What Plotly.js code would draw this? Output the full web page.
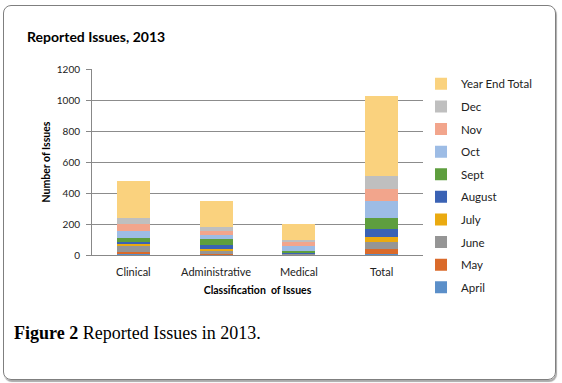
<!DOCTYPE html>
<html><head><meta charset="utf-8">
<script src="https://cdn.plot.ly/plotly-3.0.1.min.js"></script>
<style>
html,body{margin:0;padding:0;background:#fff;width:562px;height:383px;overflow:hidden;}
#frame{position:absolute;left:3px;top:5px;width:551px;height:373px;border:1px solid #7f7f7f;border-radius:8px;box-shadow:1px 2px 1px #aaa;}
#chart{position:absolute;left:0;top:0;width:562px;height:383px;}
</style></head>
<body>
<div id="frame"></div>
<div id="chart"></div>
<script>
const categories = ["Clinical", "Administrative", "Medical", "Total"];
const seriesNames = ["April", "May", "June", "July", "August", "Sept", "Oct", "Nov", "Dec", "Year End Total"];
const april = [4, 2, 1, 9];
const may = [17, 5, 2, 30];
const june = [39, 21, 3, 47];
const july = [13, 9, 1, 30];
const august = [13, 26, 3, 52];
const sept = [26, 39, 17, 73];
const oct = [43, 26, 34, 108];
const nov = [47, 30, 21, 77];
const dec = [39, 22, 13, 82];
const yearEndTotal = [238, 170, 105, 517];
const seriesColors = ["#5B8FC9", "#DA6A2A", "#959595", "#EAAA10", "#3A62B4", "#5E9E3E", "#9DBCE5", "#F2A58C", "#BFBFBF", "#FAD27E"];

const values = [april, may, june, july, august, sept, oct, nov, dec, yearEndTotal];
const font = "Lato, 'Open Sans', sans-serif";
const traces = values.map((v, i) => ({
  type: "bar", name: seriesNames[i], x: categories, y: v,
  marker: {color: seriesColors[i], line: {width: 0}},
  legendgroup: "g" + i, legendrank: 100 - i, hoverinfo: "x+y+name"
}));

const layout = {
  width: 562, height: 383,
  margin: {l: 92, r: 139, t: 69, b: 128},
  paper_bgcolor: "rgba(0,0,0,0)", plot_bgcolor: "rgba(0,0,0,0)",
  barmode: "stack", bargap: 0.6,
  font: {family: font, color: "#222", size: 10},
  title: {text: "<b>Reported Issues, 2013</b>", xref: "container", yref: "container",
          x: 27/562, xanchor: "left", y: 1 - 37/383, yanchor: "middle",
          font: {family: font, size: 14, color: "#000"}},
  xaxis: {showline: true, linecolor: "#888", ticks: "", tickfont: {size: 11, color: "#222"},
          ticklabelstandoff: 7,
          title: {text: "<b>Classification  of Issues</b>", font: {size: 10.5, color: "#000"}, standoff: 9}},
  yaxis: {range: [0, 1200], dtick: 200, showline: true, linecolor: "#888", ticks: "outside",
          ticklen: 5, tickcolor: "#888", gridcolor: "#8c8c8c", gridwidth: 1, zeroline: false,
          tickfont: {size: 10, color: "#222"}, ticklabelstandoff: 4,
          title: {text: "<b>Number of Issues</b>", font: {size: 10.5, color: "#000"}, standoff: 4}},
  legend: {x: 0.994, xanchor: "left", y: 0.998, yanchor: "top", traceorder: "grouped",
           tracegroupgap: 3.6, maxheight: 383, font: {size: 11.5, color: "#222"}, itemwidth: 30},
  annotations: [{xref: "paper", yref: "paper", x: (12-92)/331, y: (255-333)/186,
                 xanchor: "left", yanchor: "middle", showarrow: false,
                 text: "<b>Figure 2</b> Reported Issues in 2013.",
                 font: {family: "'Liberation Serif', 'Times New Roman', serif", size: 18, color: "#000"}}]
};
Plotly.newPlot("chart", traces, layout, {displayModeBar: false, staticPlot: true});
</script>
</body></html>
